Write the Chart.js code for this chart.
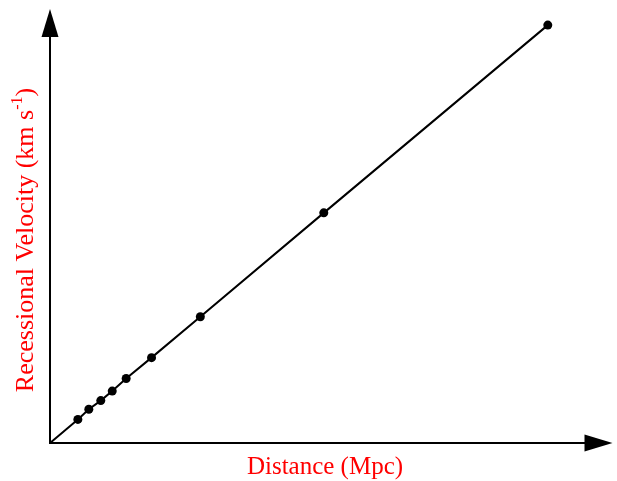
<!DOCTYPE html>
<html>
<head>
<meta charset="utf-8">
<script src="https://cdn.jsdelivr.net/npm/chart.js@4"></script>
<style>
    html, body { margin: 0; padding: 0; background: #fff; overflow: hidden; }
    canvas { display: block; }
</style>
</head>
<body>
<canvas id="hubbleChart" width="617" height="481"></canvas>
<script>
// 距離 (Mpc) と後退速度 (km/s) — 図から読み取った値
const distances = [0, 5.6, 7.8, 10.2, 12.5, 15.3, 20.4, 30.2, 55, 100];
const velocities = [0, 395, 565, 710, 870, 1080, 1430, 2115, 3855, 7000];
const xTitle = 'Distance (Mpc)';
const yTitle = 'Recessional Velocity (km s';
const ySup = '-1';

const FONT = '"Liberation Serif", "Times New Roman", serif';

// 矢印付きの軸と軸タイトルを描画するプラグイン
const arrowAxesPlugin = {
    id: 'arrowAxes',
    beforeDatasetsDraw(chart) {
        const { ctx, chartArea: { left, right, top, bottom } } = chart;

        ctx.save();
        ctx.strokeStyle = '#000';
        ctx.fillStyle = '#000';
        ctx.lineWidth = 2;

        // x軸
        ctx.beginPath();
        ctx.moveTo(left, bottom);
        ctx.lineTo(right - 20, bottom);
        ctx.stroke();
        ctx.beginPath();
        ctx.moveTo(right, bottom);
        ctx.lineTo(right - 28, bottom - 8.5);
        ctx.lineTo(right - 28, bottom + 8.5);
        ctx.closePath();
        ctx.fill();

        // y軸
        ctx.beginPath();
        ctx.moveTo(left, bottom + 1);
        ctx.lineTo(left, top + 20);
        ctx.stroke();
        ctx.beginPath();
        ctx.moveTo(left, top);
        ctx.lineTo(left - 8.5, top + 28);
        ctx.lineTo(left + 8.5, top + 28);
        ctx.closePath();
        ctx.fill();

        ctx.restore();
    },
    afterDraw(chart) {
        const { ctx, chartArea: { left, top, bottom } } = chart;

        ctx.save();
        ctx.fillStyle = '#ff0000';
        ctx.textBaseline = 'alphabetic';

        // x軸タイトル
        ctx.font = `25px ${FONT}`;
        ctx.textAlign = 'center';
        ctx.fillText(xTitle, left + 275, bottom + 31);

        // y軸タイトル (上付き文字付き)
        ctx.font = `26px ${FONT}`;
        const mainW = ctx.measureText(yTitle).width;
        ctx.font = `16px ${FONT}`;
        const supW = ctx.measureText(ySup).width;
        ctx.font = `26px ${FONT}`;
        const closeW = ctx.measureText(')').width;
        const total = mainW + supW + closeW;

        ctx.translate(left - 17, top + 231);
        ctx.rotate(-Math.PI / 2);
        ctx.textAlign = 'left';
        let x = -total / 2;
        ctx.fillText(yTitle, x, 0);
        x += mainW;
        ctx.font = `16px ${FONT}`;
        ctx.fillText(ySup, x, -11);
        x += supW;
        ctx.font = `26px ${FONT}`;
        ctx.fillText(')', x, 0);

        ctx.restore();
    }
};

const points = distances.map((d, i) => ({ x: d, y: velocities[i] }));

new Chart(document.getElementById('hubbleChart').getContext('2d'), {
    type: 'scatter',
    data: {
        datasets: [{
            data: points,
            showLine: true,
            borderColor: '#000',
            borderWidth: 2,
            backgroundColor: '#000',
            pointRadius: points.map((p, i) => i === 0 ? 0 : 4.5),
            pointHoverRadius: 4.5,
            pointBorderWidth: 0,
            tension: 0
        }]
    },
    plugins: [arrowAxesPlugin],
    options: {
        responsive: false,
        animation: false,
        devicePixelRatio: 1,
        layout: {
            padding: { left: 50, right: 0, top: 9, bottom: 38 }
        },
        plugins: {
            legend: { display: false },
            tooltip: { enabled: false }
        },
        scales: {
            x: {
                type: 'linear',
                display: false,
                min: 0,
                max: 113
            },
            y: {
                type: 'linear',
                display: false,
                min: 0,
                max: 7270
            }
        }
    }
});
</script>
</body>
</html>
